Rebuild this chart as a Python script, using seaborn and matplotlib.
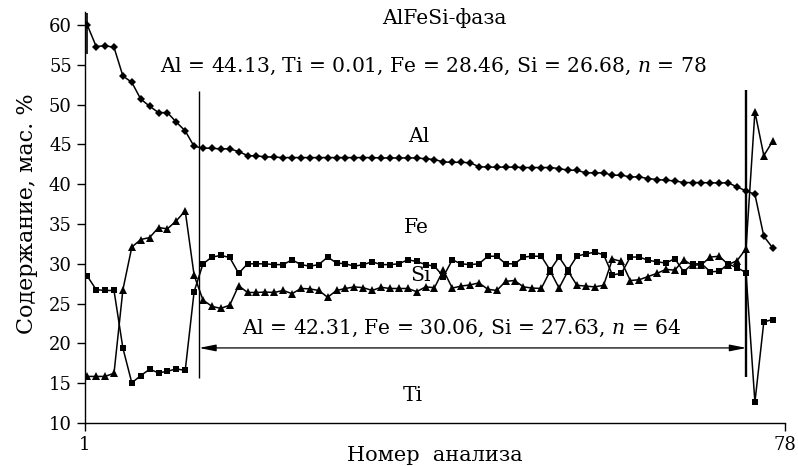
import matplotlib
matplotlib.use("Agg")
import matplotlib.pyplot as plt
import pandas as pd
import seaborn as sns

# ---------------- data ----------------
analysis = list(range(1, 79))

al = [60.0, 57.3, 57.4, 57.2, 53.6, 52.8, 50.7, 49.8, 49.0, 49.0, 47.8, 46.7,
      44.75, 44.55, 44.5, 44.45, 44.45, 44.1, 43.6, 43.55, 43.45, 43.4,
      43.35, 43.35, 43.35, 43.35, 43.35, 43.35, 43.35, 43.35, 43.35, 43.35,
      43.35, 43.3, 43.3, 43.3, 43.3, 43.3,
      43.2, 43.1, 42.8, 42.75, 42.75, 42.7, 42.2,
      42.15, 42.15, 42.15, 42.15, 42.1, 42.1, 42.1, 42.1,
      41.97, 41.76, 41.76, 41.43, 41.43, 41.43, 41.13, 41.13, 40.92, 40.92,
      40.71, 40.59, 40.5, 40.42, 40.21, 40.21, 40.21, 40.17, 40.17, 40.17,
      39.66, 39.16, 38.74, 33.46, 32.0]

fe = [28.45, 26.75, 26.65, 26.65, 19.4, 15.05, 15.95, 16.75, 16.3, 16.5, 16.8, 16.6,
      26.5, 30.0, 30.85, 31.05, 30.8, 28.8, 30.0, 30.0, 30.0, 29.9, 29.9, 30.5,
      29.9, 29.7, 29.9, 30.85, 30.1, 30.0, 29.7, 29.9, 30.25, 29.9, 29.9, 30.0,
      30.5, 30.3, 29.9, 29.7, 28.4, 30.5, 30.0, 29.9, 30.0,
      30.95, 30.95, 30.0, 30.0, 30.85, 30.95, 30.95, 29.2, 30.85, 29.2, 30.95,
      31.25, 31.45, 31.15,
      28.6, 28.8, 30.85, 30.85, 30.45, 30.25, 30.1, 30.65, 29.0, 30.0, 30.0,
      29.0, 29.05, 30.0, 29.5, 28.9, 12.6, 22.7, 23.0]

si = [15.85, 15.85, 15.85, 16.25, 26.75, 32.1, 33.05, 33.3, 34.55, 34.4, 35.4, 36.65,
      28.55, 25.45, 24.65, 24.4, 24.8, 27.25, 26.4, 26.4, 26.45, 26.4, 26.65, 26.25,
      26.9, 26.85, 26.65, 25.8, 26.65, 26.9, 27.1, 27.0, 26.65, 27.05, 26.9, 26.9,
      26.9, 26.5, 27.1, 27.0, 29.2, 26.95, 27.2, 27.35, 27.6,
      26.8, 26.65, 27.8, 27.9, 27.1, 26.95, 26.9, 29.1, 26.95, 29.1, 27.3,
      27.2, 27.1, 27.3,
      30.6, 30.3, 27.9, 28.0, 28.4, 28.8, 29.3, 29.2, 30.5, 29.8, 29.9,
      30.85, 30.95, 29.9, 30.4, 31.9, 49.1, 43.6, 45.4]

elements = ["Al", "Fe", "Si"]
markers = {"Al": "D", "Fe": "s", "Si": "^"}
marker_sizes = {"Al": 3.6, "Fe": 4.8, "Si": 5.2}

y_ticks = [10, 15, 20, 25, 30, 35, 40, 45, 50, 55, 60]
x_tick_labels = ["1", "78"]

title_text = "AlFeSi-фаза"
total_text = "Al = 44.13, Ti = 0.01, Fe = 28.46, Si = 26.68, $n$ = 78"
inner_text = "Al = 42.31, Fe = 30.06, Si = 27.63, $n$ = 64"
series_labels = {"Al": (38.2, 46.0), "Fe": (38.0, 34.5), "Si": (38.4, 28.55), "Ti": (37.6, 13.45)}

df = pd.DataFrame({
    "analysis": analysis * 3,
    "value": al + fe + si,
    "element": ["Al"] * len(al) + ["Fe"] * len(fe) + ["Si"] * len(si),
})

# ---------------- style ----------------
sns.set_style("ticks")
plt.rcParams["font.family"] = ["DejaVu Serif"]
plt.rcParams["mathtext.fontset"] = "dejavuserif"
plt.rcParams["text.color"] = "black"
plt.rcParams["axes.labelcolor"] = "black"

fig = plt.figure(figsize=(7.98, 4.66), dpi=100)
ax = fig.add_axes([0.1065, 0.0923, 0.8772, 0.8813])

for el in elements:
    sub = df[df["element"] == el]
    sns.lineplot(data=sub, x="analysis", y="value", color="black",
                 marker=markers[el], markersize=marker_sizes[el],
                 markeredgewidth=0, linewidth=1.1, ax=ax, legend=False)

x_left, x_right = 0.74, 79.38
ax.set_xlim(x_left, x_right)
ax.set_ylim(10, 61.6)
ax.set_yticks(y_ticks)
ax.set_xticks([x_left, x_right])
ax.set_xticklabels(x_tick_labels)
ax.tick_params(direction="out", length=6, width=1, labelsize=13, colors="black")
for s in ["top", "right"]:
    ax.spines[s].set_visible(False)
for s in ["left", "bottom"]:
    ax.spines[s].set_linewidth(1.0)
    ax.spines[s].set_color("black")

# boundary lines
ax.vlines(0.93, 56.4, 61.5, color="black", lw=1.2)
ax.vlines(13.55, 15.6, 51.7, color="black", lw=1.0)
ax.vlines(75.05, 15.75, 51.9, color="black", lw=1.7)
ax.annotate("", xy=(13.55, 19.43), xytext=(75.05, 19.43),
            arrowprops=dict(arrowstyle="<|-|>,head_length=1.0,head_width=0.2",
                            lw=0.9, color="black", shrinkA=0, shrinkB=0))

# texts
fs = 14.6
ax.text(41.1, 60.9, title_text, ha="center", va="center", fontsize=fs)
ax.text(39.9, 54.85, total_text, ha="center", va="center", fontsize=fs)
ax.text(43.1, 21.9, inner_text, ha="center", va="center", fontsize=fs)
for lab, (xx, yy) in series_labels.items():
    ax.text(xx, yy, lab, ha="center", va="center", fontsize=fs)

ax.set_xlabel("Номер  анализа", fontsize=15)
ax.set_ylabel("Содержание, мас. %", fontsize=16)
ax.xaxis.label.set_va("baseline")
ax.yaxis.label.set_va("center")
ax.xaxis.set_label_coords(0.5, -0.093)
ax.yaxis.set_label_coords(-0.083, 0.509)

fig.savefig("out.png", dpi=100)
